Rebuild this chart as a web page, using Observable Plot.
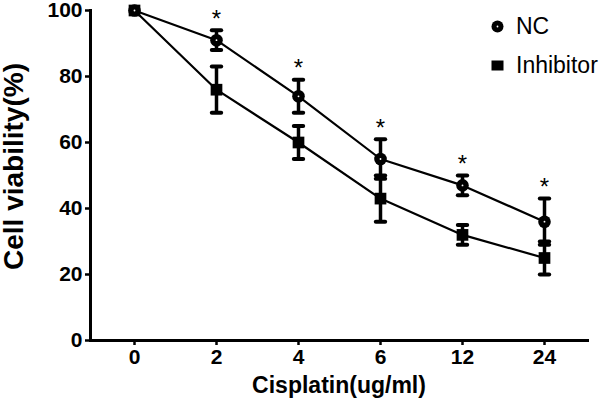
<!DOCTYPE html>
<html>
<head>
<meta charset="utf-8">
<script src="https://cdn.jsdelivr.net/npm/d3@7"></script>
<script src="https://cdn.jsdelivr.net/npm/@observablehq/plot@0.6"></script>
<style>
  html, body { margin: 0; padding: 0; background: #fff; }
  #wrap { position: relative; width: 600px; height: 408px; font-family: "Liberation Sans", Arial, sans-serif; }
  #legend { position: absolute; left: 490px; top: 7px; font-size: 23px; color: #000; line-height: 39px; }
  #legend div { display: flex; align-items: center; }
  #legend svg { margin-right: 11px; }
</style>
</head>
<body>
<div id="wrap"></div>
<script>
const doses = ["0", "2", "4", "6", "12", "24"];
const ncMean = [100, 91, 74, 55, 47, 36];
const ncSD = [0, 3, 5, 6, 3, 7];
const inhMean = [100, 76, 60, 43, 32, 25];
const inhSD = [0, 7, 5, 7, 3, 5];
const significance = ["", "*", "*", "*", "*", "*"];
const yTicks = [0, 20, 40, 60, 80, 100];
const seriesNames = ["NC", "Inhibitor"];

const nc = doses.map((d, i) => ({dose: d, mean: ncMean[i], sd: ncSD[i], lo: ncMean[i] - ncSD[i], hi: ncMean[i] + ncSD[i], sig: significance[i]}));
const inh = doses.map((d, i) => ({dose: d, mean: inhMean[i], sd: inhSD[i], lo: inhMean[i] - inhSD[i], hi: inhMean[i] + inhSD[i]}));

const cap = { draw(ctx, size) { const w = Math.sqrt(size); ctx.moveTo(-w / 2, 0); ctx.lineTo(w / 2, 0); } };

function errorMarks(data) {
  const withErr = data.filter(d => d.sd > 0);
  return [
    Plot.ruleX(withErr, {x: "dose", y1: "lo", y2: "hi", stroke: "#000", strokeWidth: 3.5}),
    Plot.dot(withErr, {x: "dose", y: "lo", symbol: cap, r: 5.3, stroke: "#000", fill: "none", strokeWidth: 4, strokeLinecap: "round"}),
    Plot.dot(withErr, {x: "dose", y: "hi", symbol: cap, r: 5.3, stroke: "#000", fill: "none", strokeWidth: 4, strokeLinecap: "round"})
  ];
}

const chart = Plot.plot({
  width: 600,
  height: 408,
  marginLeft: 90,
  marginRight: 13,
  marginTop: 10,
  marginBottom: 68,
  style: {fontFamily: "'Liberation Sans', Arial, sans-serif", fontSize: "21px", fontWeight: "bold", background: "#fff", color: "#000", overflow: "visible"},
  x: {type: "point", domain: doses, padding: 0.52},
  y: {domain: [0, 100]},
  marks: [
    Plot.axisY({ticks: yTicks, tickSize: 5, tickPadding: 3, fontSize: 21, fontWeight: "bold", strokeWidth: 2.5, label: null}),
    Plot.axisX({tickSize: 5, tickPadding: 4, fontSize: 21, fontWeight: "bold", strokeWidth: 2.5, label: null}),
    Plot.frame({anchor: "left", stroke: "#000", strokeWidth: 3}),
    Plot.frame({anchor: "bottom", stroke: "#000", strokeWidth: 3}),
    Plot.text(["Cell viability(%)"], {frameAnchor: "left", textAnchor: "middle", rotate: -90, dx: -76, dy: -9, fontSize: 28, fontWeight: "bold", fill: "#000"}),
    Plot.text(["Cisplatin(ug/ml)"], {frameAnchor: "bottom", textAnchor: "middle", dy: 52, fontSize: 23, fontWeight: "bold", fill: "#000"}),
    Plot.line(inh, {x: "dose", y: "mean", stroke: "#000", strokeWidth: 2.2}),
    Plot.line(nc, {x: "dose", y: "mean", stroke: "#000", strokeWidth: 2.2}),
    ...errorMarks(inh),
    ...errorMarks(nc),
    Plot.dot(inh, {x: "dose", y: "mean", symbol: "square", r: 6.6, fill: "#000"}),
    Plot.dot(nc, {x: "dose", y: "mean", r: 6.3, fill: "#000"}),
    Plot.dot(nc, {x: "dose", y: "mean", r: 0.9, fill: "#fff"}),
    Plot.text(nc.filter(d => d.sig), {x: "dose", y: "hi", text: "sig", dy: -11, fontSize: 24, fontWeight: "normal", fill: "#000"})
  ]
});

const wrap = document.getElementById("wrap");
wrap.appendChild(chart);

const legend = document.createElement("div");
legend.id = "legend";
legend.innerHTML =
  `<div><svg width="15" height="15" viewBox="-7.5 -7.5 15 15"><circle r="6" fill="#000"/><circle r="0.9" fill="#fff"/></svg>${seriesNames[0]}</div>` +
  `<div><svg width="15" height="15" viewBox="-7.5 -7.5 15 15"><rect x="-6" y="-5" width="12" height="10" fill="#000"/></svg>${seriesNames[1]}</div>`;
wrap.appendChild(legend);
</script>
</body>
</html>
